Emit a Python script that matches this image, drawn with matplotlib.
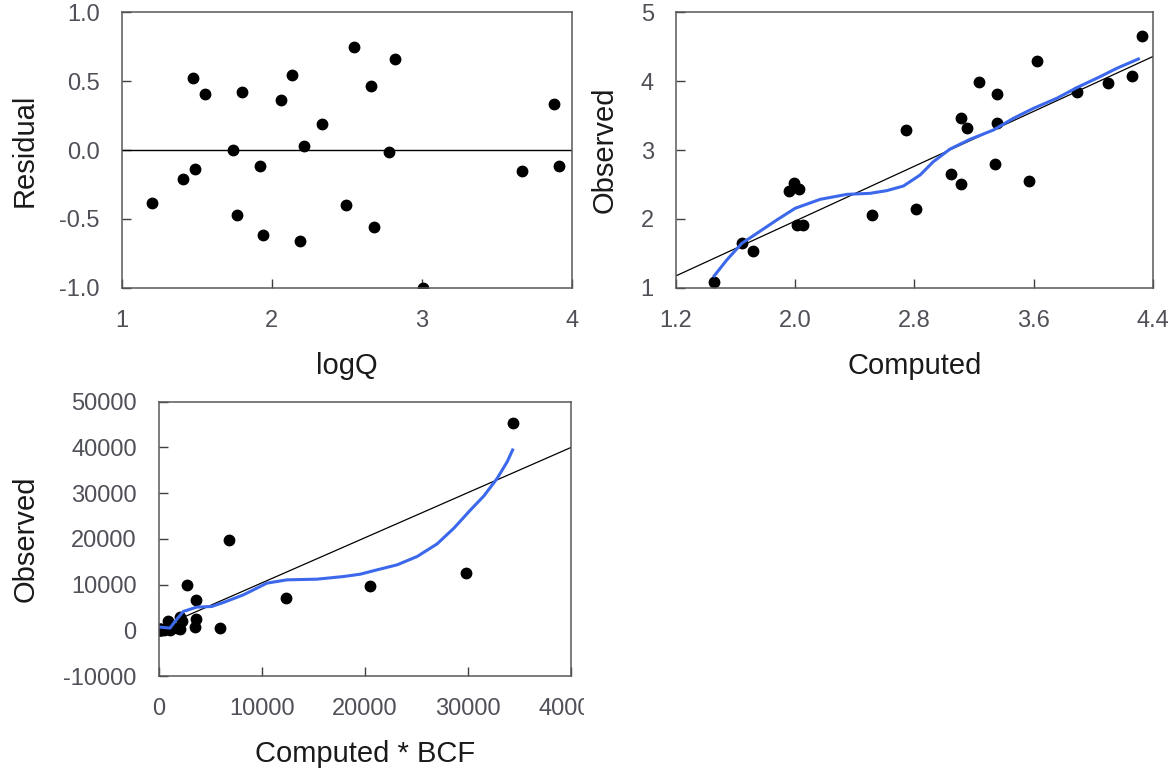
import matplotlib
matplotlib.use("Agg")
import matplotlib.pyplot as plt
from matplotlib.transforms import Bbox, TransformedBbox

plt.rcParams['font.family'] = ['Liberation Sans', 'DejaVu Sans']
plt.rcParams['axes.unicode_minus'] = False

# residuals vs logQ
logq = [1.204, 1.407, 1.476, 1.491, 1.556, 1.744, 1.769, 1.800, 1.920, 1.942,
        2.064, 2.133, 2.187, 2.216, 2.336, 2.496, 2.551, 2.660, 2.684, 2.780,
        2.820, 3.011, 3.671, 3.882, 3.913]
resid = [-0.382, -0.208, 0.524, -0.135, 0.408, -0.002, -0.471, 0.423, -0.116, -0.618,
         0.365, 0.541, -0.659, 0.027, 0.188, -0.396, 0.744, 0.466, -0.560, -0.017,
         0.657, -1.000, -0.150, 0.336, -0.118]

# observed vs computed (log units)
comp = [1.456, 1.642, 1.714, 1.958, 1.989, 2.027, 2.011, 2.056, 2.515, 2.745,
        2.812, 3.045, 3.112, 3.112, 3.152, 3.233, 3.342, 3.356, 3.356, 3.570,
        3.626, 3.890, 4.103, 4.262, 4.331]
obs = [1.092, 1.657, 1.536, 2.411, 2.527, 2.440, 1.913, 1.913, 2.058, 3.290,
       2.145, 2.647, 3.469, 2.502, 3.319, 3.990, 2.792, 3.816, 3.386, 2.556,
       4.285, 3.845, 3.966, 4.077, 4.650]
smooth_x = [1.456, 1.541, 1.642, 1.743, 1.877, 2.000, 2.168, 2.347, 2.503, 2.615,
            2.727, 2.839, 2.928, 3.040, 3.174, 3.331, 3.465, 3.600, 3.756, 3.890,
            4.047, 4.159, 4.304]
smooth_y = [1.174, 1.406, 1.647, 1.792, 1.986, 2.155, 2.285, 2.357, 2.372, 2.411,
            2.478, 2.638, 2.831, 3.014, 3.155, 3.290, 3.459, 3.604, 3.749, 3.903,
            4.063, 4.184, 4.319]
fit_log = (-0.016, 0.993)  # intercept, slope

# retransformed units
comp_bcf = [46, 70, 83, 145, 156, 170, 164, 182, 524, 889,
            1038, 1774, 2071, 2071, 2271, 2736, 3516, 3631, 3631, 5943,
            6790, 12300, 20530, 29810, 34350]
obs_lin = [12, 45, 34, 258, 336, 275, 82, 82, 114, 1950,
           140, 444, 2944, 318, 2084, 9900, 619, 6700, 2432, 500,
           19800, 7100, 9600, 12600, 45300]
smooth_bx = [107, 1080, 1566, 2377, 3674, 5133, 6268, 8214, 10483, 12429,
             15347, 17942, 19563, 21184, 23130, 25075, 27020, 28642, 30263, 31560,
             32857, 33830, 34348]
smooth_by = [691, 473, 1929, 4112, 5058, 5204, 6077, 7751, 10298, 11026,
             11171, 11754, 12263, 13210, 14301, 16121, 18887, 22307, 26310, 29367,
             33224, 36863, 39410]
fit_lin = (500, 0.986)

tick_col = '#4f5058'
lab_col = '#1a1a1a'
blue = '#3c68ec'

fig = plt.figure(figsize=(11.75, 7.75), dpi=100)
ax1 = fig.add_axes([0.1036, 0.6284, 0.3830, 0.3561])
ax2 = fig.add_axes([0.5753, 0.6284, 0.4057, 0.3561])
ax3 = fig.add_axes([0.1352, 0.1277, 0.3506, 0.3542])

def style(ax, xlabel, ylabel, ylab_x):
    for s in ax.spines.values():
        s.set_color('#585858')
        s.set_linewidth(1.1)
    ax.tick_params(direction='in', length=6.5, width=1, color='#404040',
                   labelsize=17, labelcolor=tick_col, top=False, right=False)
    ax.tick_params(axis='x', pad=16)
    ax.tick_params(axis='y', pad=16)
    ax.set_xlabel(xlabel, fontsize=21, color=lab_col)
    ax.set_ylabel(ylabel, fontsize=21, color=lab_col)
    ax.xaxis.set_label_coords(0.5, -0.232)
    ax.yaxis.set_label_coords(ylab_x, 0.5)

ax1.axhline(0, color='black', lw=1.0)
ax1.plot(logq, resid, 'o', color='black', ms=7.5, clip_on=True)
ax1.set_xlim(1, 4)
ax1.set_ylim(-1, 1)
ax1.set_xticks([1, 2, 3, 4])
ax1.set_xticklabels(['1', '2', '3', '4'])
ax1.set_yticks([-1, -0.5, 0, 0.5, 1])
ax1.set_yticklabels(['-1.0', '-0.5', '0.0', '0.5', '1.0'])
style(ax1, 'logQ', 'Residual', -0.184)

ax2.plot([1.2, 4.4], [fit_log[0] + fit_log[1] * 1.2, fit_log[0] + fit_log[1] * 4.4],
         color='black', lw=0.9)
ax2.plot(comp, obs, 'o', color='black', ms=7.5)
ax2.plot(smooth_x, smooth_y, color=blue, lw=2.2)
ax2.set_xlim(1.2, 4.4)
ax2.set_ylim(1, 5)
ax2.set_xticks([1.2, 2.0, 2.8, 3.6, 4.4])
ax2.set_xticklabels(['1.2', '2.0', '2.8', '3.6', '4.4'])
ax2.set_yticks([1, 2, 3, 4, 5])
style(ax2, 'Computed', 'Observed', -0.120)

ax3.plot([0, 40000], [fit_lin[0], fit_lin[0] + fit_lin[1] * 40000], color='black', lw=0.9)
ax3.plot(comp_bcf, obs_lin, 'o', color='black', ms=7.5)
ax3.plot(smooth_bx, smooth_by, color=blue, lw=2.2)
ax3.set_xlim(0, 40000)
ax3.set_ylim(-10000, 50000)
ax3.set_xticks([0, 10000, 20000, 30000, 40000])
ax3.set_yticks([-10000, 0, 10000, 20000, 30000, 40000, 50000])
style(ax3, 'Computed * BCF', 'Observed', -0.290)

clip = TransformedBbox(Bbox([[0, 0], [584 / 1175, 1]]), fig.transFigure)
for t in ax3.get_xticklabels():
    t.set_clip_on(True)
    t.set_clip_box(clip)

fig.savefig('out.png', dpi=100)
